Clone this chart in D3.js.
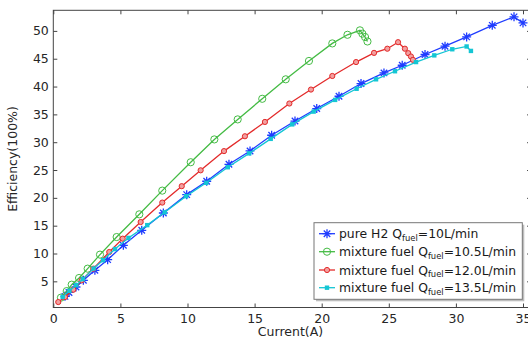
<!DOCTYPE html>
<html><head><meta charset="utf-8">
<script src="https://cdn.jsdelivr.net/npm/d3@7"></script>
<style>body{margin:0;background:#fff;} svg{display:block;font-family:"DejaVu Sans",sans-serif;}</style>
</head><body><svg id="c" width="528" height="339"></svg>
<script>
const xTicks = [0,5,10,15,20,25,30,35];
const yTicks = [5,10,15,20,25,30,35,40,45,50];
const seriesNames = ["pure H2 Q","mixture fuel Q","mixture fuel Q","mixture fuel Q"];
const seriesSuffix = ["=10L/min","=10.5L/min","=12.0L/min","=13.5L/min"];
const blueX = [0.87,1.17,1.69,2.24,3.1,4.05,5.22,6.59,8.2,9.94,11.43,13.09,14.66,16.27,18.01,19.63,21.29,22.93,24.64,26.0,27.7,29.19,30.8,32.71,34.33,35.0];
const blueY = [2.3,3.0,3.98,5.18,6.98,8.9,11.47,14.17,17.28,20.58,22.98,26.03,28.43,31.25,33.8,36.05,38.26,40.54,42.45,43.83,45.76,47.25,48.92,51.0,52.52,51.44];
const greenX = [0.57,1.0,1.37,1.92,2.56,3.48,4.72,6.41,8.12,10.24,12.0,13.74,15.57,17.32,19.05,20.79,21.92,22.85,23.03,23.23,23.41];
const greenY = [2.07,3.25,4.4,5.6,7.28,9.8,12.96,17.04,21.3,26.4,30.5,34.1,37.8,41.3,44.6,47.75,49.3,50.1,49.5,48.9,48.1];
const redX = [0.37,0.87,1.49,2.11,2.98,4.17,5.17,6.51,8.12,9.57,10.98,12.72,14.28,15.77,17.59,19.2,20.79,22.56,23.9,24.89,25.69,26.2,26.45,26.65,26.8];
const redY = [1.28,2.18,3.5,5.18,7.28,10.27,12.67,15.66,19.15,22.1,24.95,28.4,31.07,33.64,36.95,39.46,41.9,44.4,46.05,46.8,47.97,46.8,46.0,45.4,44.8];
const cyanX = [0.7,1.2,1.7,2.2,3.0,3.7,4.6,5.6,7.0,8.3,9.9,11.4,13.0,14.6,16.2,17.8,19.4,21.0,22.6,24.05,25.46,27.03,28.39,29.73,30.8,31.12];
const cyanY = [2.2,3.3,4.3,5.4,7.3,8.8,10.8,12.8,15.1,17.4,20.3,22.7,25.5,28.0,30.6,33.2,35.5,37.6,39.6,41.3,42.75,44.4,45.6,46.7,47.2,46.4];

const colors = ["#1f3cff","#44bb44","#e32a2a","#14c6d4"];
const markers = ["star","circle","dot","square"];
const svg = d3.select("#c");
const L=53.3, T=10.3, B=307.5;
const x = d3.scaleLinear().domain([0,35.6]).range([L, L+35.6*13.42]);
const y = d3.scaleLinear().domain([0.3,53.7]).range([B,T]);

const data = [
  d3.zip(blueX, blueY), d3.zip(greenX, greenY), d3.zip(redX, redY), d3.zip(cyanX, cyanY)
];

// frame
svg.append("rect").attr("x",L).attr("y",T).attr("width",x(35.6)-L).attr("height",B-T)
  .attr("fill","none").attr("stroke","#444").attr("stroke-width",1);

// axes
const ax = svg.append("g").attr("transform",`translate(0,${B})`)
  .call(d3.axisBottom(x).tickValues(xTicks).tickSizeInner(-4).tickSizeOuter(0).tickPadding(7));
const axT = svg.append("g").attr("transform",`translate(0,${T})`)
  .call(d3.axisTop(x).tickValues(xTicks).tickSizeInner(-4).tickSizeOuter(0).tickFormat(""));
const ay = svg.append("g").attr("transform",`translate(${L},0)`)
  .call(d3.axisLeft(y).tickValues(yTicks).tickSizeInner(-4).tickSizeOuter(0).tickPadding(4.5));
const ayR = svg.append("g").attr("transform",`translate(${x(35.6)},0)`)
  .call(d3.axisRight(y).tickValues(yTicks).tickSizeInner(-4).tickSizeOuter(0).tickFormat(""));
[ax,axT,ay,ayR].forEach(g=>{
  g.select(".domain").remove();
  g.selectAll("line").attr("stroke","#444");
  g.selectAll("text").attr("fill","#262626").style("font-size","12.5px").style("font-family","DejaVu Sans");
});

svg.append("text").attr("x",290.5).attr("y",336).attr("text-anchor","middle")
  .attr("fill","#262626").style("font-size","12.5px").text("Current(A)");
svg.append("text").attr("transform","translate(17,159) rotate(-90)").attr("text-anchor","middle")
  .attr("fill","#262626").style("font-size","12.5px").text("Efficiency(100%)");

function drawMarker(g, type, color, cx, cy){
  if(type==="star"){
    const r=4.5, d=r*0.72;
    g.append("path").attr("d",`M${cx-r},${cy}L${cx+r},${cy}M${cx},${cy-r}L${cx},${cy+r}M${cx-d},${cy-d}L${cx+d},${cy+d}M${cx-d},${cy+d}L${cx+d},${cy-d}`)
      .attr("stroke",color).attr("stroke-width",1.3).attr("fill","none");
  } else if(type==="circle"){
    g.append("circle").attr("cx",cx).attr("cy",cy).attr("r",3.6).attr("fill","none").attr("stroke",color).attr("stroke-width",1);
  } else if(type==="dot"){
    g.append("circle").attr("cx",cx).attr("cy",cy).attr("r",2.6).attr("fill","#f2a0a0").attr("stroke",color).attr("stroke-width",1);
  } else {
    g.append("rect").attr("x",cx-2.2).attr("y",cy-2.2).attr("width",4.4).attr("height",4.4).attr("fill",color);
  }
}

const line = d3.line().x(d=>x(d[0])).y(d=>y(d[1]));
data.forEach((pts,i)=>{
  const g = svg.append("g");
  g.append("path").attr("d",line(pts)).attr("fill","none").attr("stroke",colors[i]).attr("stroke-width",1.3);
  pts.forEach(p=>drawMarker(g, markers[i], colors[i], x(p[0]), y(p[1])));
});

// legend
const lg = svg.append("g");
const lx=314, ly=222.7, lw=208.3, lh=76.6;
lg.append("rect").attr("x",lx+2).attr("y",ly+2).attr("width",lw).attr("height",lh).attr("fill","#bdbdbd");
lg.append("rect").attr("x",lx).attr("y",ly).attr("width",lw).attr("height",lh).attr("fill","#fff").attr("stroke","#777").attr("stroke-width",1);
const rows=[233.7,251.7,270,287.7];
rows.forEach((ry,i)=>{
  lg.append("line").attr("x1",319).attr("x2",335).attr("y1",ry).attr("y2",ry).attr("stroke",colors[i]).attr("stroke-width",1.3);
  drawMarker(lg, markers[i], colors[i], 327, ry);
  const t = lg.append("text").attr("x",339).attr("y",ry+4.5).attr("fill","#1a1a1a").style("font-size","12.4px");
  t.append("tspan").text(seriesNames[i]);
  t.append("tspan").attr("dy",2.3).style("font-size","8.4px").text("fuel");
  t.append("tspan").attr("dy",-2.3).text(seriesSuffix[i]);
});
</script></body></html>
